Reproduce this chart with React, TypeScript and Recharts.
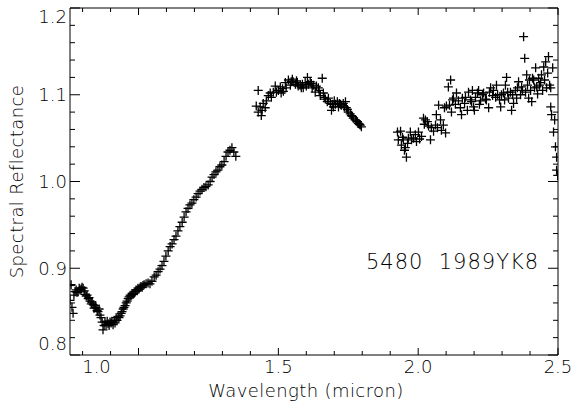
import React from 'react'
import { ScatterChart, Scatter, XAxis, YAxis, ReferenceDot, Label } from 'recharts'

// band I side (visible / near-IR)
const wave1 = [0.755,0.759,0.762,0.766,0.769,0.773,0.777,0.780,0.784,0.788,0.791,0.795,0.798,0.802,0.806,0.809,0.813,0.816,0.820,0.823,0.827,0.831,0.834,0.838,0.841,0.845,0.848,0.852,0.855,0.859,0.862,0.866,0.870,0.873,0.877,0.880,0.884,0.888,0.891,0.895,0.898,0.902,0.905,0.909,0.913,0.916,0.920,0.923,0.927,0.930,0.934,0.938,0.941,0.945,0.948,0.952,0.956,0.959,0.963,0.966,0.970,0.973,0.977,0.981,0.984,0.988,0.991,0.995,0.998,1.002,1.006,1.009,1.013,1.016,1.020,1.027,1.034,1.041,1.048,1.056,1.063,1.070,1.077,1.084,1.091,1.098,1.106,1.113,1.120,1.127,1.134,1.141,1.148,1.156,1.163,1.170,1.177,1.184,1.191,1.198,1.206,1.213,1.220,1.227,1.234,1.241,1.249,1.256,1.263,1.270,1.277,1.284,1.291,1.298,1.306,1.313,1.320,1.327,1.334,1.341,1.348]
const refl1 = [0.863,0.881,0.855,0.848,0.869,0.873,0.875,0.872,0.873,0.877,0.875,0.876,0.878,0.877,0.874,0.870,0.868,0.869,0.865,0.866,0.862,0.859,0.861,0.858,0.854,0.857,0.855,0.851,0.850,0.853,0.846,0.843,0.838,0.829,0.834,0.838,0.835,0.839,0.836,0.834,0.838,0.837,0.839,0.835,0.840,0.837,0.843,0.840,0.844,0.843,0.845,0.848,0.850,0.853,0.855,0.857,0.860,0.862,0.865,0.867,0.869,0.868,0.871,0.870,0.871,0.873,0.875,0.874,0.877,0.876,0.878,0.879,0.878,0.880,0.881,0.882,0.883,0.882,0.885,0.890,0.892,0.896,0.899,0.903,0.908,0.914,0.920,0.925,0.928,0.933,0.937,0.943,0.948,0.953,0.959,0.965,0.969,0.973,0.975,0.979,0.982,0.986,0.989,0.991,0.993,0.994,0.996,1.000,1.005,1.008,1.011,1.013,1.017,1.019,1.023,1.029,1.034,1.036,1.039,1.034,1.029]

// between the 1.4 and 1.9 micron water bands
const wave2 = [1.421,1.428,1.428,1.435,1.439,1.442,1.446,1.453,1.457,1.464,1.471,1.475,1.482,1.489,1.493,1.500,1.507,1.510,1.518,1.525,1.528,1.536,1.543,1.546,1.553,1.561,1.568,1.571,1.578,1.582,1.589,1.596,1.604,1.607,1.614,1.621,1.625,1.632,1.636,1.643,1.650,1.657,1.661,1.668,1.675,1.679,1.686,1.690,1.693,1.700,1.704,1.711,1.715,1.722,1.725,1.732,1.740,1.743,1.750,1.757,1.761,1.768,1.775,1.779,1.786,1.793,1.797,1.515,1.550,1.565,1.586,1.600,1.618,1.646,1.664,1.697,1.718,1.736,1.747,1.765,1.783,1.790]
const refl2 = [1.087,1.105,1.080,1.086,1.076,1.082,1.090,1.085,1.093,1.099,1.102,1.097,1.103,1.110,1.103,1.105,1.109,1.102,1.104,1.114,1.108,1.117,1.111,1.115,1.115,1.112,1.114,1.110,1.111,1.108,1.108,1.114,1.120,1.112,1.115,1.108,1.111,1.103,1.110,1.108,1.099,1.119,1.102,1.095,1.092,1.096,1.090,1.082,1.089,1.093,1.089,1.092,1.086,1.089,1.088,1.090,1.092,1.085,1.080,1.078,1.076,1.073,1.071,1.070,1.067,1.065,1.063,1.107,1.118,1.116,1.112,1.110,1.113,1.105,1.097,1.086,1.090,1.086,1.083,1.075,1.069,1.066]

// long side, past 1.9 micron
const wave3 = [1.926,1.929,1.937,1.940,1.944,1.947,1.951,1.954,1.958,1.962,1.965,1.972,1.976,1.983,1.990,1.994,2.001,2.005,2.012,2.019,2.022,2.026,2.033,2.037,2.044,2.047,2.055,2.062,2.065,2.069,2.073,2.080,2.083,2.090,2.094,2.098,2.101,2.108,2.112,2.116,2.119,2.123,2.126,2.133,2.137,2.144,2.151,2.155,2.158,2.166,2.169,2.176,2.180,2.187,2.191,2.194,2.198,2.201,2.205,2.212,2.216,2.219,2.223,2.230,2.234,2.241,2.244,2.252,2.255,2.259,2.266,2.269,2.277,2.280,2.284,2.291,2.295,2.298,2.305,2.309,2.312,2.316,2.320,2.323,2.330,2.334,2.338,2.341,2.348,2.352,2.355,2.359,2.366,2.370,2.373,2.377,2.381,2.384,2.388,2.391,2.395,2.398,2.402,2.406,2.409,2.413,2.416,2.420,2.424,2.427,2.431,2.434,2.438,2.441,2.445,2.449,2.452,2.456,2.459,2.463,2.466,2.470,2.474,2.474,2.477,2.481,2.484,2.488,2.491,2.495,2.495,2.499]
const refl3 = [1.057,1.048,1.058,1.042,1.051,1.048,1.036,1.039,1.028,1.044,1.050,1.057,1.048,1.050,1.054,1.046,1.057,1.049,1.052,1.073,1.066,1.071,1.069,1.064,1.048,1.062,1.058,1.065,1.077,1.062,1.088,1.071,1.059,1.065,1.085,1.056,1.087,1.109,1.088,1.117,1.080,1.094,1.096,1.089,1.102,1.093,1.085,1.077,1.096,1.090,1.097,1.082,1.103,1.094,1.092,1.105,1.086,1.082,1.097,1.102,1.105,1.089,1.093,1.100,1.102,1.095,1.094,1.085,1.103,1.108,1.099,1.105,1.097,1.111,1.100,1.094,1.086,1.100,1.102,1.094,1.111,1.120,1.103,1.096,1.103,1.082,1.100,1.090,1.105,1.096,1.108,1.115,1.100,1.109,1.105,1.167,1.142,1.103,1.123,1.111,1.096,1.117,1.105,1.092,1.119,1.117,1.108,1.131,1.109,1.101,1.119,1.111,1.114,1.123,1.105,1.132,1.117,1.138,1.108,1.125,1.144,1.111,1.108,1.086,1.077,1.131,1.057,1.071,1.040,1.028,1.013,1.007]

const xTicks = [0.8,0.9,1.0,1.1,1.2,1.3,1.4,1.5,1.6,1.7,1.8,1.9,2.0,2.1,2.2,2.3,2.4,2.5]
const yTicks = [0.8,0.82,0.84,0.86,0.88,0.9,0.92,0.94,0.96,0.98,1.0,1.02,1.04,1.06,1.08,1.1,1.12,1.14,1.16,1.18,1.2]
const xLabels = ['1.0','1.5','2.0','2.5']
const yLabels = ['0.8','0.9','1.0','1.1','1.2']
const objectName = '5480\u00a0\u00a01989YK8'

const FONT = '"DejaVu Sans", sans-serif'
const INK = '#000'

const zip = (w: number[], r: number[]) => w.map((x, i) => ({ x, y: r[i] })).filter(p => p.y != null)
const points = [...zip(wave1, refl1), ...zip(wave2, refl2), ...zip(wave3, refl3)]

const isMult = (v: number, step: number) => Math.abs(v / step - Math.round(v / step)) < 1e-6
const fmt = (v: number) => v.toFixed(1)

// label nudges, as in the original IDL plot
const xLabelDx: { [k: string]: number } = { '1.0': -42 }
const yLabelDy: { [k: string]: number } = { '1.2': 9, '0.8': -11 }

const BottomTick = (props: any) => {
  const { x, y, payload } = props
  const v = payload.value
  const major = isMult(v, 0.5)
  const lab = fmt(v)
  return (
    <g>
      <line x1={x} x2={x} y1={y} y2={y - (major ? 7 : 4)} stroke="#000" />
      {major && xLabels.includes(lab) && (
        <text x={x + (xLabelDx[lab] || 0)} y={y + 18} textAnchor="middle" fontFamily={FONT} fontSize={18} fontWeight={300} fill={INK}>{lab}</text>
      )}
    </g>
  )
}
const TopTick = (props: any) => {
  const { x, y, payload } = props
  const major = isMult(payload.value, 0.5)
  return <line x1={x} x2={x} y1={y} y2={y + (major ? 7 : 4)} stroke="#000" />
}
const LeftTick = (props: any) => {
  const { x, y, payload } = props
  const v = payload.value
  const major = isMult(v, 0.1)
  const lab = fmt(v)
  return (
    <g>
      <line x1={x} x2={x + (major ? 10 : 5)} y1={y} y2={y} stroke="#000" />
      {major && yLabels.includes(lab) && (
        <text x={x - 3} y={y + (yLabelDy[lab] || 0)} dy="0.36em" textAnchor="end" fontFamily={FONT} fontSize={18} fontWeight={300} fill={INK}>{lab}</text>
      )}
    </g>
  )
}
const RightTick = (props: any) => {
  const { x, y, payload } = props
  const major = isMult(payload.value, 0.1)
  return <line x1={x} x2={x - (major ? 10 : 5)} y1={y} y2={y} stroke="#000" />
}

const PlusMark = (props: any) => {
  const { cx, cy } = props
  if (cx == null || cy == null) return <g />
  return <path d={`M${cx - 4.5},${cy}H${cx + 4.5}M${cx},${cy - 4.5}V${cy + 4.5}`} stroke="#000" strokeWidth={1.3} fill="none" />
}

const App = () => {
  return (
    <div style={{ position: 'absolute', left: 0, top: 0, background: '#fff' }}>
      <ScatterChart width={571} height={406} margin={{ top: 0, right: 0, bottom: 0, left: 0 }}>
        <XAxis xAxisId="b" type="number" dataKey="x" domain={[0.755, 2.5]} allowDataOverflow ticks={xTicks} interval={0}
          tick={<BottomTick />} tickLine={false} tickSize={0} tickMargin={0} height={51} axisLine={{ stroke: '#000' }}>
          <Label value="Wavelength (micron)" position="insideBottom" offset={9} dx={-8}
            style={{ fontFamily: FONT, fontSize: 18, fontWeight: 300, fill: INK, letterSpacing: 0.4 }} />
        </XAxis>
        <XAxis xAxisId="t" orientation="top" type="number" dataKey="x" domain={[0.755, 2.5]} allowDataOverflow ticks={xTicks} interval={0}
          tick={<TopTick />} tickLine={false} tickSize={0} tickMargin={0} height={8} axisLine={{ stroke: '#000' }} />
        <YAxis yAxisId="l" type="number" dataKey="y" domain={[0.8, 1.2]} allowDataOverflow ticks={yTicks} interval={0}
          tick={<LeftTick />} tickLine={false} tickSize={0} tickMargin={0} width={70} axisLine={{ stroke: '#000' }}>
          <Label value="Spectral Reflectance" angle={-90} position="insideLeft" offset={17}
            style={{ fontFamily: FONT, fontSize: 18, fontWeight: 300, fill: INK, textAnchor: 'middle', letterSpacing: 0.4 }} />
        </YAxis>
        <YAxis yAxisId="r" orientation="right" type="number" dataKey="y" domain={[0.8, 1.2]} allowDataOverflow ticks={yTicks} interval={0}
          tick={<RightTick />} tickLine={false} tickSize={0} tickMargin={0} width={13} axisLine={{ stroke: '#000' }} />
        <Scatter xAxisId="b" yAxisId="l" data={points} shape={PlusMark} isAnimationActive={false} />
        <ReferenceDot xAxisId="b" yAxisId="l" x={2.123} y={0.908} r={0} stroke="none" fill="none" ifOverflow="visible"
          label={{ value: objectName, position: 'center', style: { fontFamily: FONT, fontSize: 21, fontWeight: 300, fill: INK, letterSpacing: 1 } }} />
      </ScatterChart>
    </div>
  )
}

export default App
